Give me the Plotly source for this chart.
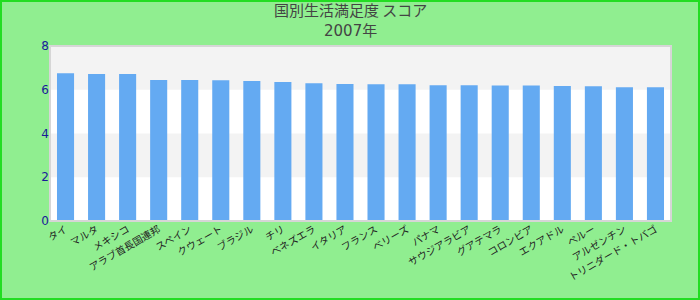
import plotly.graph_objects as go

categories = ["タイ", "マルタ", "メキシコ", "アラブ首長国連邦", "スペイン", "クウェート", "ブラジル",
              "チリ", "ベネズエラ", "イタリア", "フランス", "ベリーズ", "パナマ", "サウジアラビア",
              "グアテマラ", "コロンビア", "エクアドル", "ペルー", "アルゼンチン", "トリニダード・トバゴ"]
values = [6.76, 6.72, 6.72, 6.45, 6.45, 6.44, 6.40, 6.35, 6.30, 6.26,
          6.25, 6.25, 6.21, 6.21, 6.20, 6.20, 6.17, 6.16, 6.12, 6.12]
y_ticks = [0, 2, 4, 6, 8]
title_main = "国別生活満足度 スコア"
title_sub = "2007年"

W, H = 700, 300
ml, mr, mt, mb = 50, 29, 46, 79
pw, ph = W - ml - mr, H - mt - mb

fig = go.Figure(go.Bar(x=categories, y=values, marker=dict(color="#64aaf2", line=dict(width=0)),
                       width=0.55))

shapes = []
for lo, hi in [(2, 4), (6, 8)]:
    shapes.append(dict(type="rect", xref="paper", yref="y", x0=0, x1=1, y0=lo, y1=hi,
                       fillcolor="#f3f3f3", line=dict(width=0), layer="below"))
shapes.append(dict(type="rect", xref="paper", yref="paper", x0=0, x1=1, y0=0, y1=1,
                   line=dict(color="#d6d6d6", width=2), fillcolor="rgba(0,0,0,0)"))
shapes.append(dict(type="rect", xref="paper", yref="paper",
                   x0=(-ml + 1) / pw, x1=(W - ml - 1) / pw,
                   y0=(-mb + 1) / ph, y1=(H - mb - 1) / ph,
                   line=dict(color="#22dd22", width=2), fillcolor="rgba(0,0,0,0)"))

tx = (350 - ml) / pw
annotations = [
    dict(text=title_main, xref="paper", yref="paper", x=tx, y=(H - mb - 10) / ph,
         xanchor="center", yanchor="middle", showarrow=False,
         font=dict(family="Noto Sans CJK JP", size=15, color="#444444")),
    dict(text=title_sub, xref="paper", yref="paper", x=tx, y=(H - mb - 31) / ph,
         xanchor="center", yanchor="middle", showarrow=False,
         font=dict(family="DejaVu Sans, Noto Sans CJK JP", size=15, color="#444444")),
]

fig.update_layout(
    width=W, height=H,
    margin=dict(l=ml, r=mr, t=mt, b=mb),
    paper_bgcolor="#90ee90", plot_bgcolor="#ffffff",
    shapes=shapes,
    annotations=annotations,
    showlegend=False,
    bargap=0.45,
    xaxis=dict(tickangle=-30, tickfont=dict(family="Noto Sans CJK JP", size=10, color="#222222"),
               showgrid=False, zeroline=False, ticks="", showline=False),
    yaxis=dict(range=[0, 8], tickvals=y_ticks, showgrid=False, zeroline=False,
               tickfont=dict(family="DejaVu Sans", size=12, color="#1a1a99"), ticks="", showline=False),
    font=dict(family="Noto Sans CJK JP"),
)

fig.write_html("out.html")
